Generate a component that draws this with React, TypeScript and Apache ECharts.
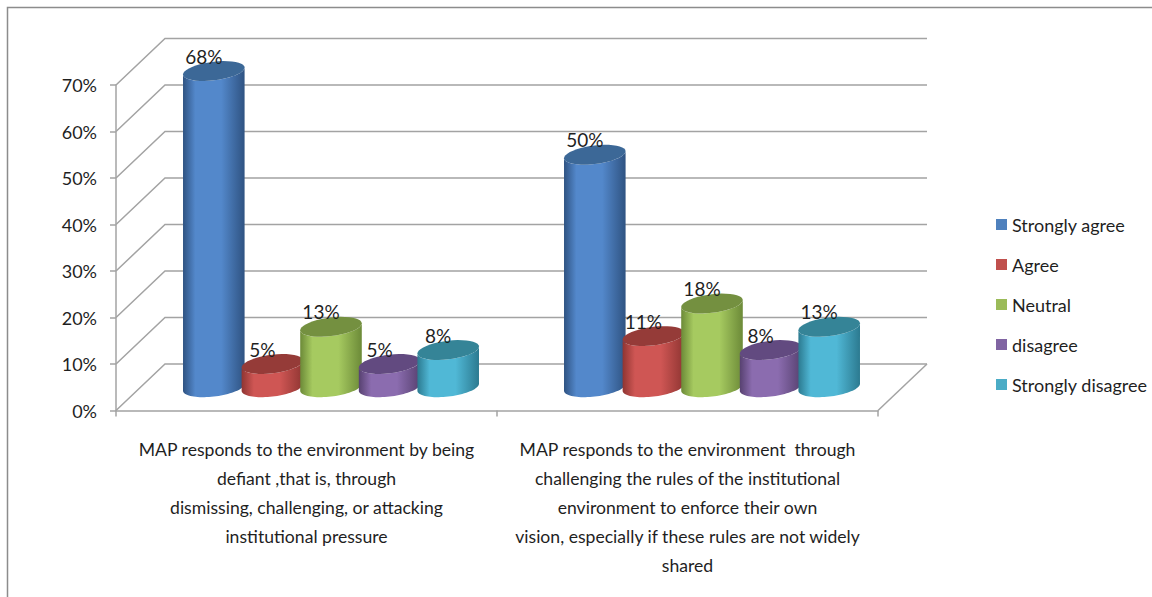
import React, { useEffect, useRef } from "react";
import * as echarts from "echarts";

const categories = [
  "MAP responds to the environment by being\ndefiant ,that is, through\ndismissing, challenging, or attacking\ninstitutional pressure",
  "MAP responds to the environment  through\nchallenging the rules of the institutional\nenvironment to enforce their own\nvision, especially if these rules are not widely\nshared",
];
const seriesNames = ["Strongly agree", "Agree", "Neutral", "disagree", "Strongly disagree"];
const stronglyAgree = [68, 50];
const agree = [5, 11];
const neutral = [13, 18];
const disagree = [5, 8];
const stronglyDisagree = [8, 13];
const seriesValues = [stronglyAgree, agree, neutral, disagree, stronglyDisagree];
const yTicks = [0, 10, 20, 30, 40, 50, 60, 70];

const legendColors = ["#4f81bd", "#c0504d", "#9bbb59", "#8064a2", "#4bacc6"];
const edgeColors = ["#2f5382", "#8f3532", "#6c8a38", "#574170", "#2c7a90"];
const midColors = ["#5388cb", "#cf5654", "#a6ca60", "#8b6caf", "#50b8d6"];
const capColors = ["#3c6897", "#953b38", "#749040", "#624a80", "#358497"];

const FONT = 'Lato, "Liberation Sans", sans-serif';
const TEXT = "#1f1f1f";
const AXIS = "#a3a3a3";
const DEPTH_X = 49;

function ellipsePoints(cx: number, cy: number, a: number, b: number, k: number, from: number, to: number) {
  const pts: number[][] = [];
  const n = 40;
  for (let j = 0; j <= n; j++) {
    const t = from + ((to - from) * j) / n;
    pts.push([cx + a * Math.cos(t), cy + b * Math.sin(t) - k * Math.cos(t)]);
  }
  return pts;
}

function wallItem(params: any, api: any) {
  const cs = params.coordSys;
  const y = api.coord([0, api.value(1)])[1];
  const dy = api.size([0, 10])[1];
  const style = { stroke: AXIS, lineWidth: 1.5, fill: "none" };
  const children: any[] = [
    {
      type: "polyline",
      shape: { points: [[cs.x, y], [cs.x + DEPTH_X, y - dy], [cs.x + cs.width + DEPTH_X, y - dy]] },
      style,
    },
  ];
  if (api.value(1) === 0) {
    children.push({
      type: "line",
      shape: { x1: cs.x + cs.width + DEPTH_X, y1: y - dy, x2: cs.x + cs.width, y2: y },
      style,
    });
  }
  return { type: "group", children };
}

function cylinderItem(i: number) {
  return (_params: any, api: any) => {
    const band = api.size([1, 0])[0];
    const dy = api.size([0, 10])[1];
    const cx = api.coord([api.value(0), 0])[0] + DEPTH_X / 2 + (i - 2) * band * 0.1538;
    const baseY = api.coord([api.value(0), 0])[1] - dy / 2;
    const topY = api.coord([api.value(0), api.value(1)])[1] - dy / 2;
    const a = band * 0.0808;
    const b = 9.3;
    const k = 3.5;
    const body = [
      ...ellipsePoints(cx, baseY, a, b, k, Math.PI, 0),
      ...ellipsePoints(cx, topY, a, b, k, 0, Math.PI),
    ];
    return {
      type: "group",
      children: [
        {
          type: "polygon",
          shape: { points: body },
          style: {
            fill: new echarts.graphic.LinearGradient(0, 0, 1, 0, [
              { offset: 0, color: edgeColors[i] },
              { offset: 0.2, color: midColors[i] },
              { offset: 0.62, color: midColors[i] },
              { offset: 1, color: edgeColors[i] },
            ]),
          },
        },
        {
          type: "polygon",
          shape: { points: ellipsePoints(cx, topY, a, b, k, 0, Math.PI * 2) },
          style: { fill: capColors[i] },
        },
        {
          type: "text",
          style: {
            text: `${api.value(1)}%`,
            x: cx - 10,
            y: topY - 15,
            align: "center",
            verticalAlign: "middle",
            font: `19px ${FONT}`,
            fill: TEXT,
          },
        },
      ],
    };
  };
}

export default function App() {
  const ref = useRef<HTMLDivElement>(null);
  useEffect(() => {
    document.body.style.margin = "0";
    const chart = echarts.init(ref.current!, null, { renderer: "svg" });
    chart.setOption({
      animation: false,
      backgroundColor: "#ffffff",
      textStyle: { fontFamily: FONT },
      grid: { left: 116, top: 85, width: 762, height: 325.5, containLabel: false },
      legend: {
        orient: "vertical",
        left: 996,
        top: 213,
        padding: 0,
        icon: "rect",
        itemWidth: 11,
        itemHeight: 11,
        itemGap: 17,
        data: seriesNames,
        selectedMode: false,
        textStyle: { fontFamily: FONT, fontSize: 18, color: TEXT, lineHeight: 23 },
      },
      xAxis: {
        type: "category",
        data: categories,
        axisLine: { lineStyle: { color: AXIS, width: 1.5 } },
        axisTick: { show: true, length: 6, lineStyle: { color: AXIS, width: 1.5 } },
        axisLabel: {
          interval: 0,
          margin: 24,
          fontFamily: FONT,
          fontSize: 17.6,
          lineHeight: 29,
          color: TEXT,
          align: "center",
        },
      },
      yAxis: {
        type: "value",
        min: 0,
        max: 70,
        interval: 10,
        axisLine: { show: true, lineStyle: { color: AXIS, width: 1.5 } },
        axisTick: { show: true, length: 6, lineStyle: { color: AXIS, width: 1.5 } },
        splitLine: { show: false },
        axisLabel: {
          formatter: "{value}%",
          margin: 19,
          fontFamily: FONT,
          fontSize: 18,
          color: TEXT,
        },
      },
      series: [
        {
          type: "custom",
          name: "walls",
          silent: true,
          renderItem: wallItem,
          data: yTicks.map((v) => [0, v]),
          encode: { x: 0, y: 1 },
          z: 1,
        },
        ...seriesNames.map((name, i) => ({
          type: "custom",
          name,
          renderItem: cylinderItem(i),
          itemStyle: { color: legendColors[i] },
          data: seriesValues[i].map((v, c) => [c, v]),
          encode: { x: 0, y: 1 },
          z: 2 + i,
        })),
      ],
      graphic: [
        {
          type: "polyline",
          silent: true,
          shape: { points: [[7.5, 597], [7.5, 7.5], [1152, 7.5]] },
          style: { stroke: "#8c8c8c", lineWidth: 1.5, fill: "none" },
        },
      ],
    });
    return () => chart.dispose();
  }, []);
  return <div ref={ref} style={{ width: 1152, height: 597 }} />;
}
